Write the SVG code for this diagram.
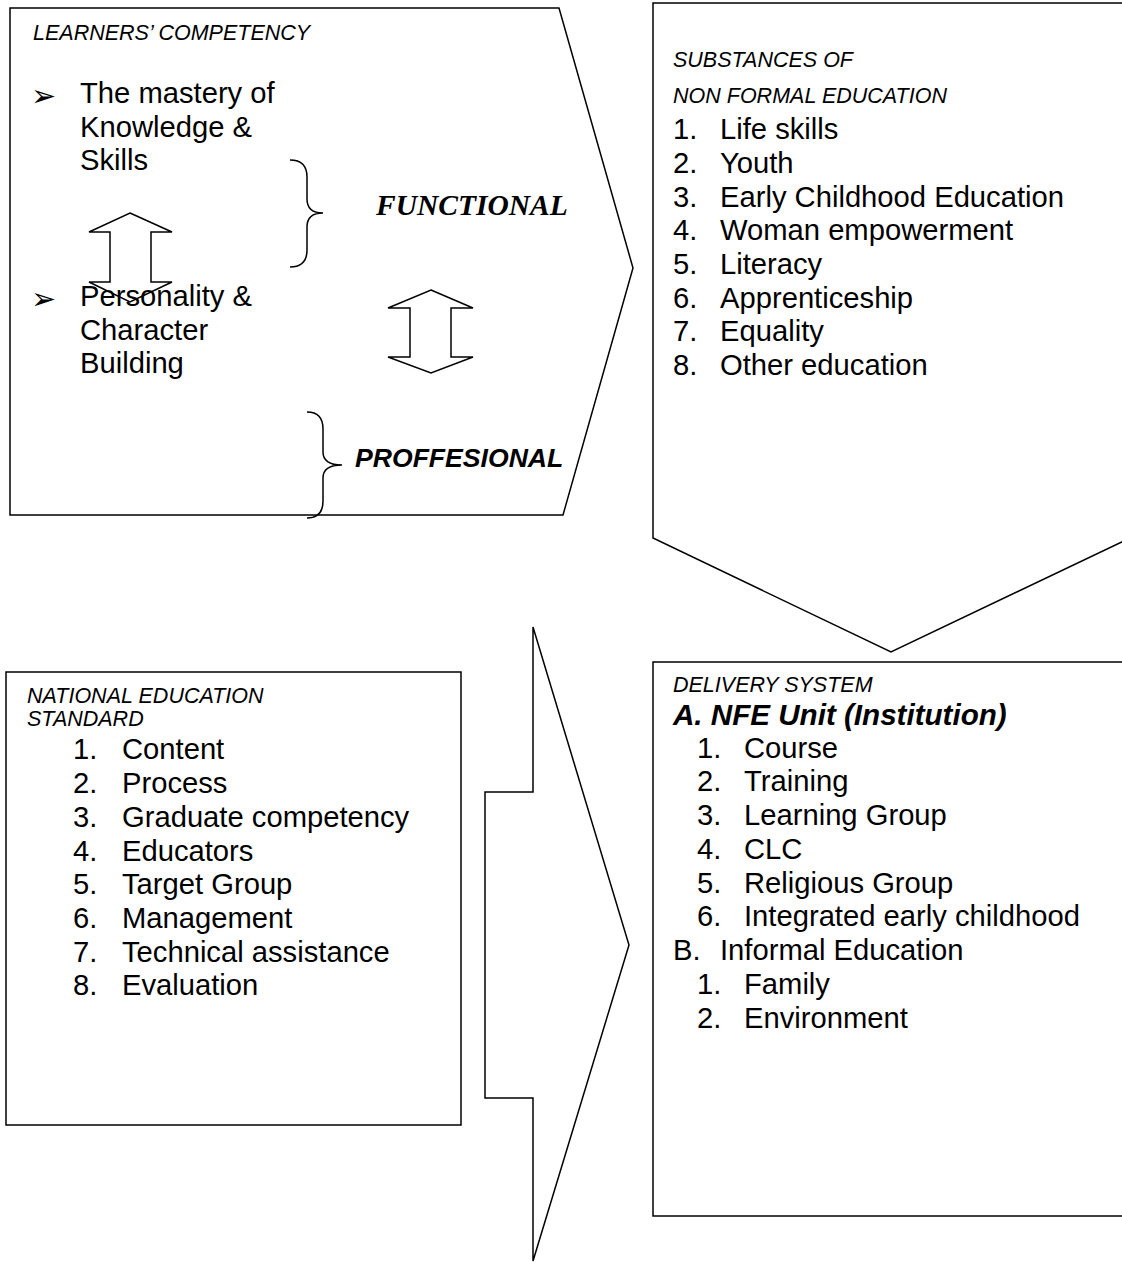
<svg xmlns="http://www.w3.org/2000/svg" width="1122" height="1262" viewBox="0 0 1122 1262">
<style>
.shape{fill:#fff;stroke:#000;stroke-width:1.5;stroke-linejoin:miter}
.line{fill:none;stroke:#000;stroke-width:1.5}
.hdr{font-family:"Liberation Sans",Arial,sans-serif;font-style:italic;font-size:21.5px;fill:#000}
.t{font-family:"Liberation Sans",Arial,sans-serif;font-size:29.2px;fill:#000}
.bi{font-family:"Liberation Sans",Arial,sans-serif;font-size:26.6px;font-weight:bold;font-style:italic;fill:#000}
.bi2{font-family:"Liberation Sans",Arial,sans-serif;font-size:29.6px;font-weight:bold;font-style:italic;fill:#000}
.ser{font-family:"Liberation Serif","Times New Roman",serif;font-size:29.5px;font-weight:bold;font-style:italic;fill:#000}
.bul{font-family:"DejaVu Sans",sans-serif;font-size:30px;fill:#000}
</style>
<rect width="1122" height="1262" fill="#fff"/>

<g id="connectors">
  <path id="arrow-bottom" class="shape" d="M533,627 L629,945 L533,1261 L533,1098 L485,1098 L485,792 L533,792 Z"/>
</g>

<g id="learners-competency">
  <path class="shape" d="M10,8 L559,8 L633,268 L563,515 L10,515 Z"/>
  <text class="hdr" x="33" y="40">LEARNERS’ COMPETENCY</text>
  <text class="bul" x="31" y="106">➢</text>
  <text class="t" x="80" y="103">The mastery of</text>
  <text class="t" x="80" y="137">Knowledge &amp;</text>
  <text class="t" x="80" y="170">Skills</text>
  <path class="shape" d="M130,213 L172,232 L151,232 L151,282 L172,282 L130,302 L89,282 L110,282 L110,232 L89,232 Z"/>
  <text class="bul" x="31" y="309">➢</text>
  <text class="t" x="80" y="306">Personality &amp;</text>
  <text class="t" x="80" y="340">Character</text>
  <text class="t" x="80" y="373">Building</text>
  <path class="line" d="M290,160 Q307,160 307,177 L307,199 Q307,213 323,213 Q307,213 307,227 L307,250 Q307,267 290,267"/>
  <text class="ser" x="376" y="215">FUNCTIONAL</text>
  <path class="shape" d="M431,290 L473,308 L451,308 L451,357 L473,357 L431,373 L388,357 L410,357 L410,308 L388,308 Z"/>
  <path class="line" d="M307,412 Q323,412 323,429 L323,452 Q323,465 342,465 Q323,465 323,478 L323,501 Q323,518 307,518"/>
  <text class="bi" x="355" y="467">PROFFESIONAL</text>
</g>

<g id="substances">
  <path class="shape" d="M653,3 L1130,3 L1130,538 L891,652 L653,538 Z"/>
  <text class="hdr" x="673" y="67">SUBSTANCES OF</text>
  <text class="hdr" x="673" y="103">NON FORMAL EDUCATION</text>
  <g class="t">
    <text x="673" y="139">1.</text><text x="720" y="139">Life skills</text>
    <text x="673" y="173">2.</text><text x="720" y="173">Youth</text>
    <text x="673" y="207">3.</text><text x="720" y="207">Early Childhood Education</text>
    <text x="673" y="240">4.</text><text x="720" y="240">Woman empowerment</text>
    <text x="673" y="274">5.</text><text x="720" y="274">Literacy</text>
    <text x="673" y="308">6.</text><text x="720" y="308">Apprenticeship</text>
    <text x="673" y="341">7.</text><text x="720" y="341">Equality</text>
    <text x="673" y="375">8.</text><text x="720" y="375">Other education</text>
  </g>
</g>

<g id="national-standard">
  <rect class="shape" x="6" y="672" width="455" height="453"/>
  <text class="hdr" x="27" y="703">NATIONAL EDUCATION</text>
  <text class="hdr" x="27" y="726">STANDARD</text>
  <g class="t">
    <text x="73" y="759">1.</text><text x="122" y="759">Content</text>
    <text x="73" y="793">2.</text><text x="122" y="793">Process</text>
    <text x="73" y="827">3.</text><text x="122" y="827">Graduate competency</text>
    <text x="73" y="861">4.</text><text x="122" y="861">Educators</text>
    <text x="73" y="894">5.</text><text x="122" y="894">Target Group</text>
    <text x="73" y="928">6.</text><text x="122" y="928">Management</text>
    <text x="73" y="962">7.</text><text x="122" y="962">Technical assistance</text>
    <text x="73" y="995">8.</text><text x="122" y="995">Evaluation</text>
  </g>
</g>

<g id="delivery-system">
  <rect class="shape" x="653" y="662" width="480" height="554"/>
  <text class="hdr" x="673" y="692">DELIVERY SYSTEM</text>
  <text class="bi2" x="673" y="725">A. NFE Unit (Institution)</text>
  <g class="t">
    <text x="697" y="758">1.</text><text x="744" y="758">Course</text>
    <text x="697" y="791">2.</text><text x="744" y="791">Training</text>
    <text x="697" y="825">3.</text><text x="744" y="825">Learning Group</text>
    <text x="697" y="859">4.</text><text x="744" y="859">CLC</text>
    <text x="697" y="893">5.</text><text x="744" y="893">Religious Group</text>
    <text x="697" y="926">6.</text><text x="744" y="926">Integrated early childhood</text>
    <text x="673" y="960">B.</text><text x="720" y="960">Informal Education</text>
    <text x="697" y="994">1.</text><text x="744" y="994">Family</text>
    <text x="697" y="1028">2.</text><text x="744" y="1028">Environment</text>
  </g>
</g>
</svg>
